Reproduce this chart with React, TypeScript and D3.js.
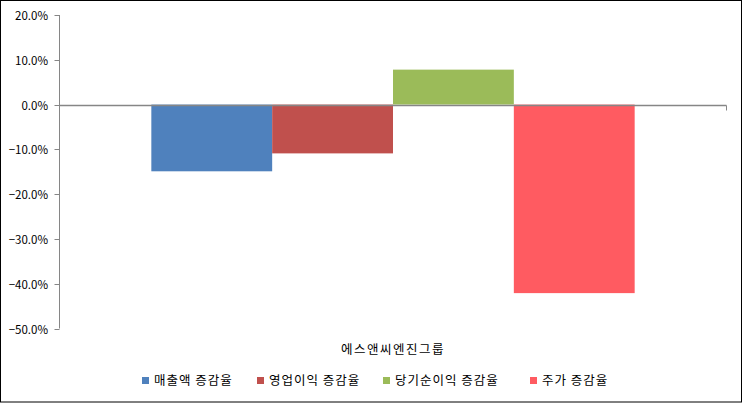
import React from "react";
import * as d3 from "d3";

const categories = ["에스앤씨엔진그룹"];
const seriesNames = ["매출액 증감율", "영업이익 증감율", "당기순이익 증감율", "주가 증감율"];
const seriesValues = [-0.149, -0.109, 0.078, -0.421];
const seriesColors = ["#4F81BD", "#C0504D", "#9BBB59", "#FF5B61"];
const yTicks = [0.2, 0.1, 0, -0.1, -0.2, -0.3, -0.4, -0.5];

const W = 743;
const H = 403;
const FONT = "'Noto Sans CJK KR', 'Noto Sans', sans-serif";

export default function App() {
  const plotLeft = 59.5;
  const plotRight = 726.5;
  const y = d3.scaleLinear().domain([-0.5, 0.2]).range([328.5, 15]);
  const x0 = d3.scaleBand().domain(categories).range([plotLeft, plotRight]).paddingInner(0).paddingOuter(0);
  const groupW = x0.bandwidth();
  const barW = groupW / (seriesNames.length + 1.52);
  const gap = groupW - barW * seriesNames.length;
  const x1 = d3
    .scaleBand()
    .domain(seriesNames)
    .range([gap / 2, gap / 2 + barW * seriesNames.length]);
  const fmt = d3.format(".1%");
  const zeroY = Math.round(y(0)) + 0.5;

  const legendX = [142, 257, 383, 530];

  return (
    <svg
      width={W}
      height={H}
      style={{ position: "absolute", left: 0, top: 0, background: "#fff" }}
      fontFamily={FONT}
    >
      <rect x={0.5} y={0.5} width={W - 2} height={H - 1.5} fill="#fff" stroke="#000" strokeWidth={1} />
      {/* bars */}
      {categories.map((c) =>
        seriesNames.map((s, i) => {
          const v = seriesValues[i];
          const bx = (x0(c) ?? 0) + (x1(s) ?? 0);
          const top = y(Math.max(0, v));
          const bot = y(Math.min(0, v));
          return (
            <rect key={c + s} x={bx} y={top} width={x1.bandwidth()} height={bot - top} fill={seriesColors[i]} />
          );
        })
      )}
      {/* y axis */}
      <line x1={plotLeft} x2={plotLeft} y1={y(0.2)} y2={y(-0.5)} stroke="#868686" strokeWidth={1} />
      {yTicks.map((t) => {
        const ty = Math.round(y(t)) + 0.5;
        return (
          <g key={t}>
            <line x1={plotLeft - 5} x2={plotLeft} y1={ty} y2={ty} stroke="#868686" />
            <text x={48} y={ty} dy="0.35em" textAnchor="end" fontSize={11.5} fill="#000">
              {fmt(t)}
            </text>
          </g>
        );
      })}
      {/* zero / category axis */}
      <line x1={plotLeft} x2={plotRight} y1={zeroY} y2={zeroY} stroke="#868686" strokeWidth={1.5} />
      <line x1={plotRight} x2={plotRight} y1={zeroY} y2={zeroY + 5} stroke="#868686" />
      {categories.map((c) => (
        <text
          key={c}
          x={(x0(c) ?? 0) + groupW / 2}
          y={350}
          dy="0.35em"
          textAnchor="middle"
          fontSize={12.5}
          letterSpacing={1.5}
          fill="#000"
        >
          {c}
        </text>
      ))}
      {/* legend */}
      {seriesNames.map((s, i) => (
        <g key={s}>
          <rect x={legendX[i]} y={377} width={7} height={7} fill={seriesColors[i]} />
          <text x={legendX[i] + 12} y={381} dy="0.35em" fontSize={12.5} letterSpacing={1} fill="#000">
            {s}
          </text>
        </g>
      ))}
    </svg>
  );
}
